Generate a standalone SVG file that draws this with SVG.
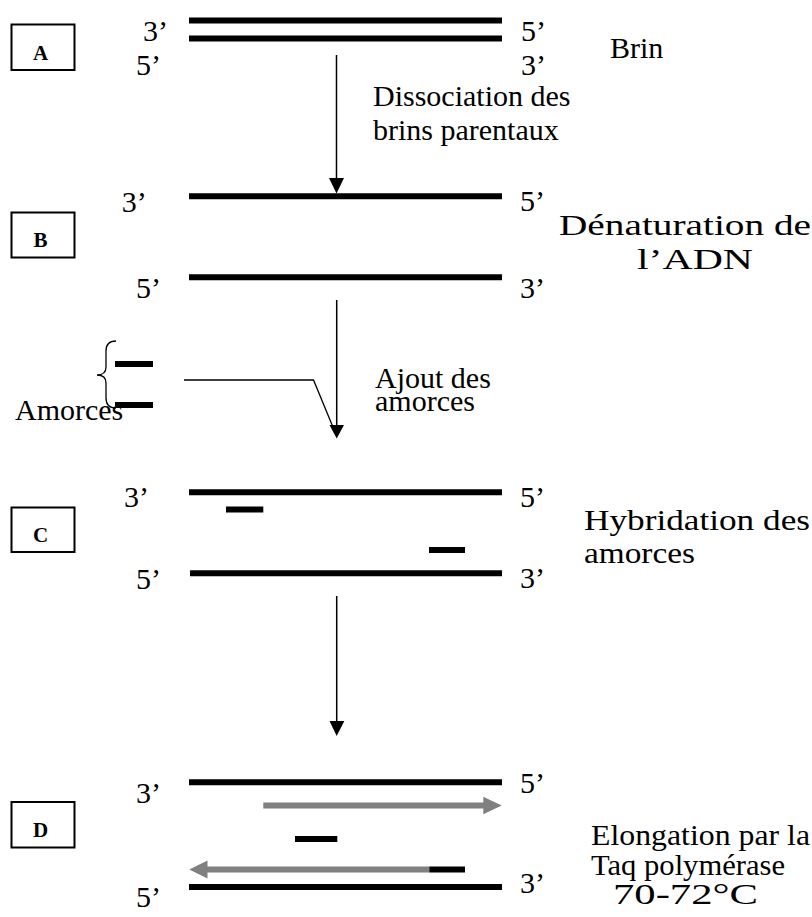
<svg xmlns="http://www.w3.org/2000/svg" width="812" height="917" viewBox="0 0 812 917">
<style>
text{font-family:"Liberation Serif","Times New Roman",serif;font-size:30px;fill:#000}
.lbl{font-weight:bold;font-size:21px;text-anchor:middle}
.box{fill:#fff;stroke:#000;stroke-width:2}
.strand{stroke:#000;stroke-width:6;fill:none}
.primer{stroke:#000;stroke-width:6;fill:none}
.grey{stroke:#808080;stroke-width:6;fill:none}
.conn{stroke:#000;stroke-width:1.5;fill:none}
</style>
<defs>
<clipPath id="clipAm"><rect x="370" y="300" width="200" height="111"/></clipPath>
</defs>
<rect width="812" height="917" fill="#fff"/>

<g id="stepA">
<rect class="box" x="11.5" y="24.5" width="63" height="45.5"/>
<text class="lbl" x="40.5" y="59.5">A</text>
<line class="strand" x1="189" y1="20.5" x2="502" y2="20.5"/>
<line class="strand" x1="189" y1="38.5" x2="502" y2="38.5"/>
<text x="143" y="40.7">3’</text>
<text x="136" y="75">5’</text>
<text x="521" y="40.7">5’</text>
<text x="521" y="75">3’</text>
<text x="610" y="58">Brin</text>
</g>

<g id="stepB">
<rect class="box" x="11.5" y="212.5" width="63" height="45"/>
<text class="lbl" x="40.5" y="246.7">B</text>
<line class="strand" x1="189" y1="196.3" x2="502" y2="196.3"/>
<line class="strand" x1="189" y1="277.3" x2="502" y2="277.3"/>
<text x="121.7" y="212.3">3’</text>
<text x="136" y="297.7">5’</text>
<text x="520" y="211">5’</text>
<text x="520" y="298.3">3’</text>
<text x="559" y="235" textLength="252" lengthAdjust="spacingAndGlyphs">Dénaturation de</text>
<text x="637" y="269" textLength="116" lengthAdjust="spacingAndGlyphs">l’ADN</text>
</g>

<g id="primers">
<path d="M116,341 Q106,341 106,351 L106,367 Q106,375 97,375 Q106,375 106,383 L106,398 Q106,408 116,408" stroke="#000" stroke-width="1.3" fill="none"/>
<line class="primer" x1="115" y1="364" x2="153" y2="364"/>
<line class="primer" x1="115" y1="405" x2="153" y2="405"/>
<text x="15" y="420">Amorces</text>
</g>

<g id="stepC">
<rect class="box" x="11.5" y="507.5" width="63" height="44.5"/>
<text class="lbl" x="40.5" y="541.7">C</text>
<line class="strand" x1="189" y1="492.3" x2="502" y2="492.3"/>
<line class="strand" x1="190" y1="573.3" x2="502" y2="573.3"/>
<line class="primer" x1="226" y1="509.5" x2="263.3" y2="509.5"/>
<line class="primer" x1="429" y1="550" x2="465" y2="550"/>
<text x="124" y="506.7">3’</text>
<text x="136" y="589">5’</text>
<text x="520" y="506.7">5’</text>
<text x="520" y="588.3">3’</text>
<text x="584" y="530" textLength="226" lengthAdjust="spacingAndGlyphs">Hybridation des</text>
<text x="584" y="563" textLength="111" lengthAdjust="spacingAndGlyphs">amorces</text>
</g>

<g id="stepD">
<rect class="box" x="11.5" y="802" width="63" height="45.5"/>
<text class="lbl" x="40.5" y="836.7">D</text>
<line class="strand" x1="189" y1="782.3" x2="502" y2="782.3"/>
<line class="strand" x1="189" y1="887" x2="502" y2="887"/>
<line class="grey" x1="263.3" y1="805.5" x2="485" y2="805.5"/>
<polygon points="483.3,796.7 501.7,805.5 483.3,814.3" fill="#808080"/>
<line class="grey" x1="205" y1="869.5" x2="429.3" y2="869.5"/>
<polygon points="207.5,860.5 189.3,869.5 207.5,878.5" fill="#808080"/>
<line class="primer" x1="429.3" y1="869.5" x2="465" y2="869.5"/>
<line class="primer" x1="295" y1="839" x2="337.3" y2="839"/>
<text x="136" y="803.3">3’</text>
<text x="136" y="906.7">5’</text>
<text x="520" y="793.3">5’</text>
<text x="520" y="893.3">3’</text>
<text x="591" y="845" textLength="219" lengthAdjust="spacingAndGlyphs">Elongation par la</text>
<text x="591" y="875" textLength="194" lengthAdjust="spacingAndGlyphs">Taq polymérase</text>
<text x="613" y="904" textLength="145" lengthAdjust="spacingAndGlyphs">70-72°C</text>
</g>

<g id="connectors">
<line class="conn" x1="336.5" y1="55" x2="336.5" y2="180"/>
<polygon points="329,178 344,178 336.5,193.5" fill="#000"/>
<text x="373" y="106">Dissociation des</text>
<text x="373" y="140">brins parentaux</text>
<line class="conn" x1="336.7" y1="300" x2="336.7" y2="427"/>
<polygon points="329.5,425 344,425 336.7,438.5" fill="#000"/>
<polyline points="184,380 313.5,380 335,432" stroke="#000" stroke-width="1.3" fill="none"/>
<text x="375" y="388">Ajout des</text>
<text x="375" y="411" clip-path="url(#clipAm)">amorces</text>
<line class="conn" x1="336.7" y1="596" x2="336.7" y2="723"/>
<polygon points="329.5,721 344.3,721 336.7,736" fill="#000"/>
</g>
</svg>
